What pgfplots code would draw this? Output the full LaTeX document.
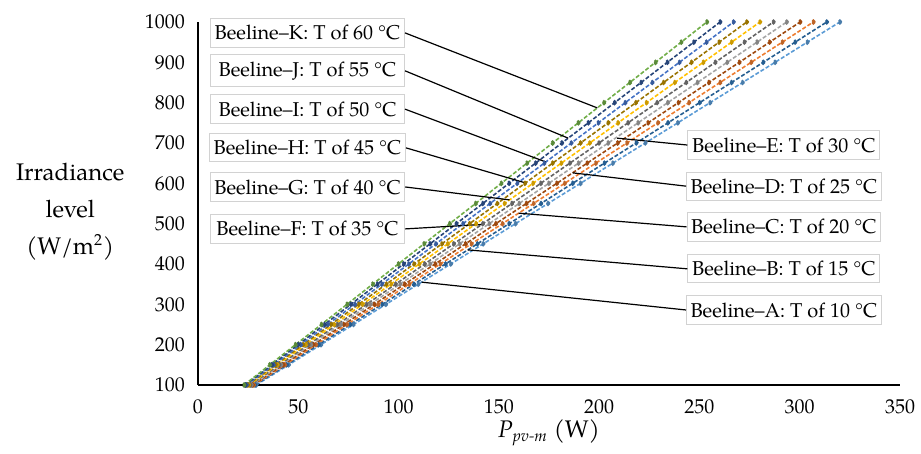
\documentclass[border=0pt,10pt]{standalone}
\usepackage{fontspec}
\setmainfont{TeX Gyre Pagella}
\usepackage{pgfplots}
\usepackage{pgfplotstable}
\pgfplotsset{compat=1.18}
\usetikzlibrary{calc}

\definecolor{cA}{HTML}{5B9BD5}
\definecolor{cB}{HTML}{255E91}
\definecolor{cC}{HTML}{ED7D31}
\definecolor{cD}{HTML}{9E480E}
\definecolor{cE}{HTML}{A5A5A5}
\definecolor{cF}{HTML}{636363}
\definecolor{cG}{HTML}{FFC000}
\definecolor{cH}{HTML}{997300}
\definecolor{cI}{HTML}{4472C4}
\definecolor{cJ}{HTML}{264478}
\definecolor{cK}{HTML}{70AD47}

\tikzset{bx/.style={draw=gray!35, fill=white, line width=0.5pt, minimum height=14pt,
        inner xsep=2pt, font=\fontsize{10}{12}\selectfont}}

% irradiance G (W/m2) and P_pv-m (W) for each beeline
\pgfplotstableread{
G     A      B      C      D      E      F      G2     H      I      J      K
100   29.0   28.4   27.8   27.2   26.6   26.0   25.4   24.8   24.2   23.6   23.0
150   45.2   44.2   43.3   42.4   41.4   40.5   39.6   38.6   37.7   36.8   35.8
200   61.3   60.1   58.8   57.5   56.3   55.0   53.7   52.4   51.2   49.9   48.6
250   77.5   75.9   74.3   72.7   71.1   69.5   67.9   66.3   64.7   63.1   61.5
300   93.7   91.8   89.8   87.9   85.9   84.0   82.0   80.1   78.2   76.2   74.3
350  109.8  107.6  105.3  103.0  100.7   98.5   96.2   93.9   91.6   89.4   87.1
400  126.0  123.4  120.8  118.2  115.6  113.0  110.3  107.7  105.1  102.5   99.9
450  142.2  139.3  136.3  133.4  130.4  127.5  124.5  121.6  118.6  115.7  112.7
500  158.3  155.1  151.8  148.5  145.2  142.0  138.6  135.4  132.1  128.8  125.5
550  174.5  171.0  167.3  163.7  160.1  156.5  152.8  149.2  145.6  142.0  138.4
600  190.7  186.8  182.8  178.9  174.9  170.9  167.0  163.0  159.1  155.1  151.2
650  206.8  202.6  198.3  194.0  189.7  185.4  181.1  176.8  172.6  168.3  164.0
700  223.0  218.5  213.8  209.2  204.5  199.9  195.3  190.7  186.1  181.4  176.8
750  239.2  234.3  229.3  224.4  219.4  214.4  209.4  204.5  199.6  194.6  189.6
800  255.3  250.1  244.8  239.5  234.2  228.9  223.6  218.3  213.0  207.7  202.4
850  271.5  266.0  260.3  254.7  249.0  243.4  237.7  232.1  226.5  220.9  215.3
900  287.7  281.8  275.8  269.9  263.8  257.9  251.9  246.0  240.0  234.0  228.1
950  303.8  297.7  291.3  285.0  278.7  272.4  266.0  259.8  253.5  247.2  240.9
1000 320.0  313.5  306.8  300.2  293.5  286.9  280.2  273.6  267.0  260.3  253.7
}\beeline

\begin{document}
\begin{tikzpicture}
\begin{axis}[
    name=ax,
    scale only axis,
    width=351pt,
    height=181.5pt,
    xmin=0, xmax=350,
    ymin=100, ymax=1000,
    xtick={0,50,...,350},
    ytick={100,200,...,1000},
    axis x line=bottom,
    axis y line=left,
    axis line style={-, line width=1.2pt, black},
    major tick length=0pt,
    tick label style={font=\fontsize{10}{12}\selectfont},
    /pgf/number format/assume math mode=true,
    /pgf/number format/1000 sep={},
    xticklabel style={yshift=-4pt},
    yticklabel style={xshift=-3pt},
    xlabel={\fontsize{12}{14}\selectfont\textit{P}\textsubscript{\textit{pv-m}} (W)},
    xlabel style={yshift=4pt},
    clip=false,
    every axis plot/.append style={dash pattern=on 2pt off 1pt, line width=0.8pt,
        mark=*, mark size=0.9pt, mark options={solid}},
]
\addplot[cA, mark options={fill=cA!80!black, draw=cA!80!black}] table[x=A, y=G] {\beeline};
\addplot[cB, mark options={fill=cB, draw=cB}] table[x=B, y=G] {\beeline};
\addplot[cC, mark options={fill=cC!80!black, draw=cC!80!black}] table[x=C, y=G] {\beeline};
\addplot[cD, mark options={fill=cD, draw=cD}] table[x=D, y=G] {\beeline};
\addplot[cE, mark options={fill=cE!80!black, draw=cE!80!black}] table[x=E, y=G] {\beeline};
\addplot[cF, mark options={fill=cF, draw=cF}] table[x=F, y=G] {\beeline};
\addplot[cG, mark options={fill=cG!80!black, draw=cG!80!black}] table[x=G2, y=G] {\beeline};
\addplot[cH, mark options={fill=cH, draw=cH}] table[x=H, y=G] {\beeline};
\addplot[cI, mark options={fill=cI!80!black, draw=cI!80!black}] table[x=I, y=G] {\beeline};
\addplot[cJ, mark options={fill=cJ, draw=cJ}] table[x=J, y=G] {\beeline};
\addplot[cK, mark options={fill=cK!80!black, draw=cK!80!black}] table[x=K, y=G] {\beeline};

% call-out boxes, left column
\node[bx, minimum width=97pt] (bK) at (axis cs:54.6,973) {Beeline--K: T of 60 °C};
\node[bx, minimum width=97pt] (bJ) at (axis cs:54.6,879) {Beeline--J: T of 55 °C};
\node[bx, minimum width=97pt] (bI) at (axis cs:54.6,784) {Beeline--I: T of 50 °C};
\node[bx, minimum width=97pt] (bH) at (axis cs:54.6,688) {Beeline--H: T of 45 °C};
\node[bx, minimum width=97pt] (bG) at (axis cs:54.6,591) {Beeline--G: T of 40 °C};
\node[bx, minimum width=97pt] (bF) at (axis cs:54.6,487) {Beeline--F: T of 35 °C};
% right column
\node[bx, minimum width=96pt] (bE) at (axis cs:292.1,695) {Beeline--E: T of 30 °C};
\node[bx, minimum width=96pt] (bD) at (axis cs:292.1,593) {Beeline--D: T of 25 °C};
\node[bx, minimum width=96pt] (bC) at (axis cs:292.1,492) {Beeline--C: T of 20 °C};
\node[bx, minimum width=96pt] (bB) at (axis cs:292.1,388) {Beeline--B: T of 15 °C};
\node[bx, minimum width=96pt] (bA) at (axis cs:292.1,286) {Beeline--A: T of 10 °C};

% leader lines
\draw[line width=0.6pt] (bK.east) -- (axis cs:199.1,787);
\draw[line width=0.6pt] (bJ.east) -- (axis cs:184.6,712);
\draw[line width=0.6pt] (bI.east) -- (axis cs:173.4,653);
\draw[line width=0.6pt] (bH.east) -- (axis cs:163.3,601);
\draw[line width=0.6pt] (bG.east) -- (axis cs:155.3,559);
\draw[line width=0.6pt] (bF.east) -- (axis cs:141.5,498);
\draw[line width=0.6pt] (bE.west) -- (axis cs:209.0,712);
\draw[line width=0.6pt] (bD.west) -- (axis cs:186.8,626);
\draw[line width=0.6pt] (bC.west) -- (axis cs:159.9,526);
\draw[line width=0.6pt] (bB.west) -- (axis cs:134.5,435);
\draw[line width=0.6pt] (bA.west) -- (axis cs:111.5,355);

\node[align=center, font=\fontsize{12}{18.5}\selectfont]
    at (rel axis cs:-0.182,0.477) {Irradiance\\level\\(W/m\textsuperscript{2})};
\end{axis}
\pgfresetboundingbox
\path ($(ax.south west)+(-99pt,-34.5pt)$) rectangle ($(ax.north east)+(10.5pt,11pt)$);
\end{tikzpicture}
\end{document}
